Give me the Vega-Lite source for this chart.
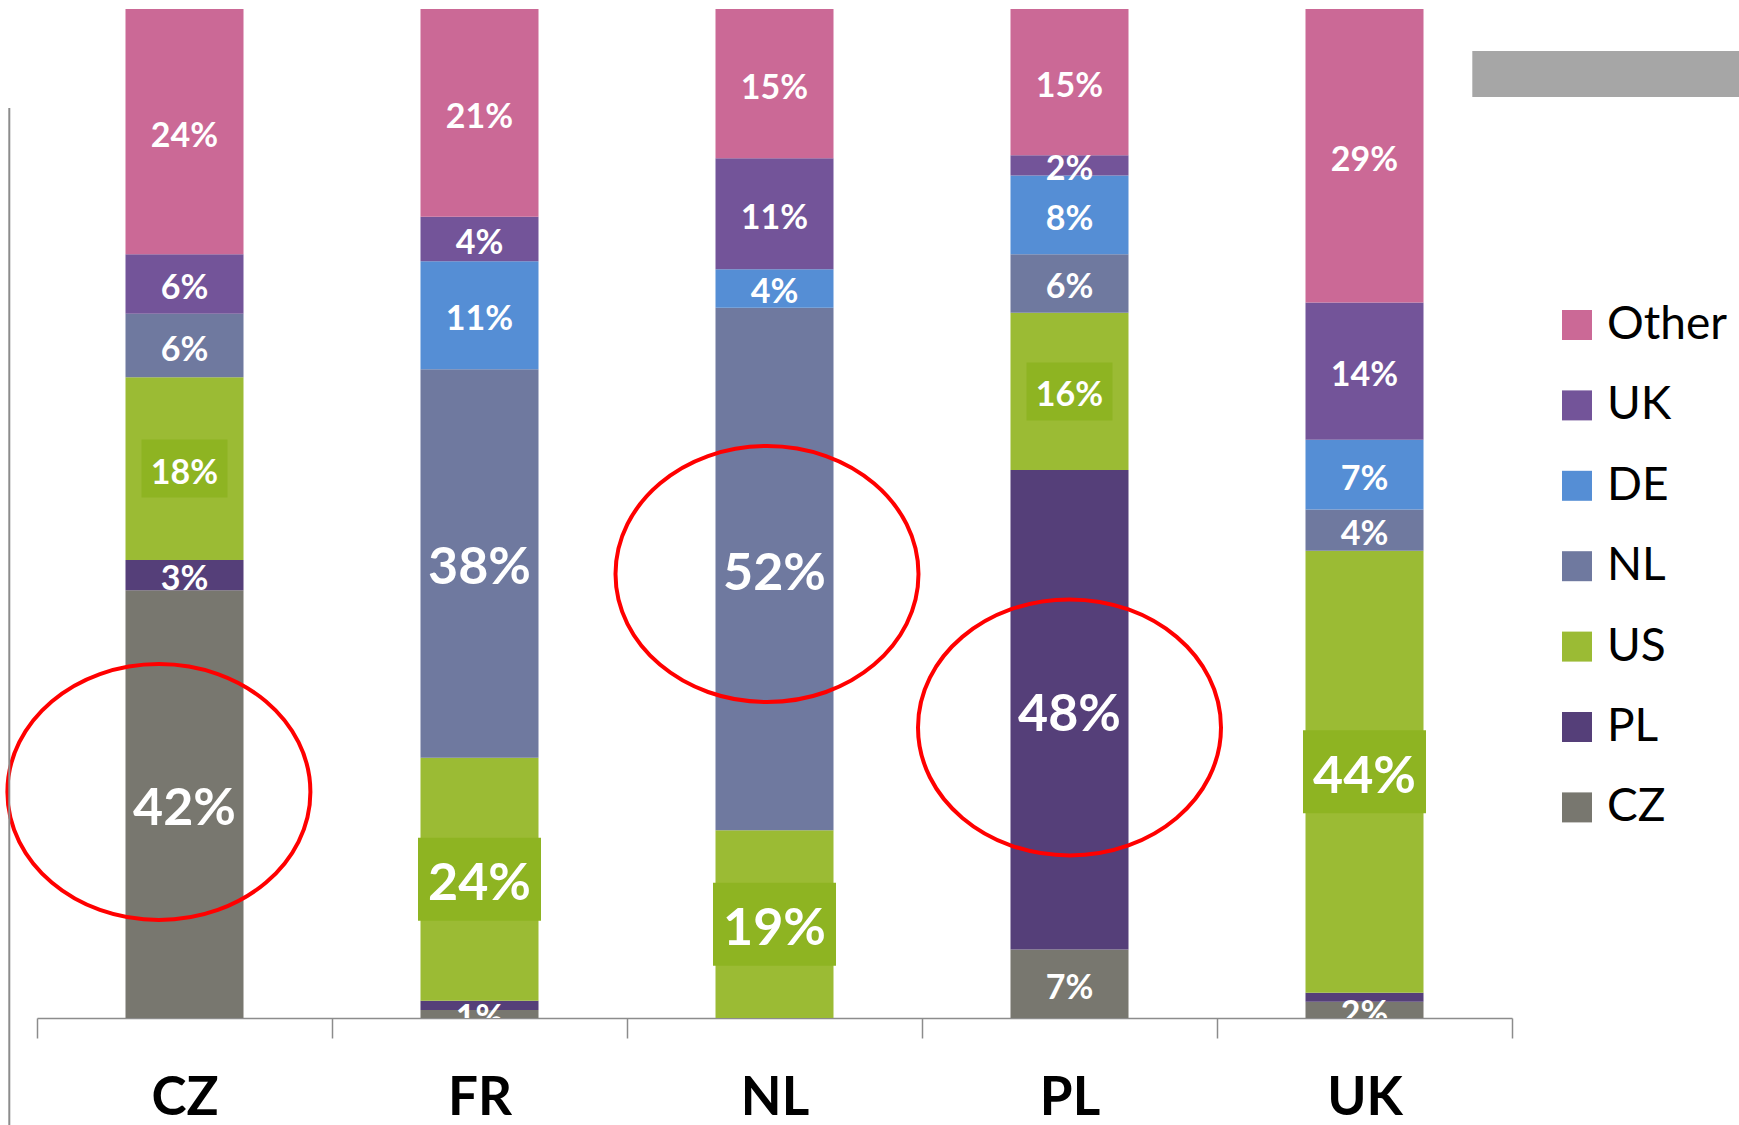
{
  "$schema": "https://vega.github.io/schema/vega-lite/v6.json",
  "width": 1475,
  "height": 1009,
  "autosize": {"type": "none"},
  "padding": {"left": 37, "top": 9, "right": 227, "bottom": 107},
  "background": "white",
  "config": {"view": {"stroke": null}, "font": "Lato"},
  "datasets": {
    "shares": [
      {"country": "CZ", "series": "CZ", "rank": 1, "share": 42.4, "label": "42%"},
      {"country": "CZ", "series": "PL", "rank": 2, "share": 3.0, "label": "3%"},
      {"country": "CZ", "series": "US", "rank": 3, "share": 18.1, "label": "18%"},
      {"country": "CZ", "series": "NL", "rank": 4, "share": 6.3, "label": "6%"},
      {"country": "CZ", "series": "UK", "rank": 6, "share": 5.9, "label": "6%"},
      {"country": "CZ", "series": "Other", "rank": 7, "share": 24.3, "label": "24%"},
      {"country": "FR", "series": "CZ", "rank": 1, "share": 0.8, "label": "1%"},
      {"country": "FR", "series": "PL", "rank": 2, "share": 0.9, "label": ""},
      {"country": "FR", "series": "US", "rank": 3, "share": 24.1, "label": "24%"},
      {"country": "FR", "series": "NL", "rank": 4, "share": 38.5, "label": "38%"},
      {"country": "FR", "series": "DE", "rank": 5, "share": 10.7, "label": "11%"},
      {"country": "FR", "series": "UK", "rank": 6, "share": 4.4, "label": "4%"},
      {"country": "FR", "series": "Other", "rank": 7, "share": 20.6, "label": "21%"},
      {"country": "NL", "series": "US", "rank": 3, "share": 18.6, "label": "19%"},
      {"country": "NL", "series": "NL", "rank": 4, "share": 51.8, "label": "52%"},
      {"country": "NL", "series": "DE", "rank": 5, "share": 3.8, "label": "4%"},
      {"country": "NL", "series": "UK", "rank": 6, "share": 11.0, "label": "11%"},
      {"country": "NL", "series": "Other", "rank": 7, "share": 14.8, "label": "15%"},
      {"country": "PL", "series": "CZ", "rank": 1, "share": 6.8, "label": "7%"},
      {"country": "PL", "series": "PL", "rank": 2, "share": 47.5, "label": "48%"},
      {"country": "PL", "series": "US", "rank": 3, "share": 15.6, "label": "16%"},
      {"country": "PL", "series": "NL", "rank": 4, "share": 5.8, "label": "6%"},
      {"country": "PL", "series": "DE", "rank": 5, "share": 7.8, "label": "8%"},
      {"country": "PL", "series": "UK", "rank": 6, "share": 2.0, "label": "2%"},
      {"country": "PL", "series": "Other", "rank": 7, "share": 14.5, "label": "15%"},
      {"country": "UK", "series": "CZ", "rank": 1, "share": 1.6, "label": "2%"},
      {"country": "UK", "series": "PL", "rank": 2, "share": 0.9, "label": ""},
      {"country": "UK", "series": "US", "rank": 3, "share": 43.8, "label": "44%"},
      {"country": "UK", "series": "NL", "rank": 4, "share": 4.1, "label": "4%"},
      {"country": "UK", "series": "DE", "rank": 5, "share": 6.9, "label": "7%"},
      {"country": "UK", "series": "UK", "rank": 6, "share": 13.6, "label": "14%"},
      {"country": "UK", "series": "Other", "rank": 7, "share": 29.1, "label": "29%"}
    ],
    "rings": [
      {"country": "CZ", "center": 22.4},
      {"country": "NL", "center": 44.0},
      {"country": "PL", "center": 28.8}
    ]
  },
  "layer": [
    {
      "data": {"name": "shares"},
      "mark": {"type": "bar", "width": {"band": 0.4}},
      "encoding": {
        "x": {
          "field": "country", "type": "nominal",
          "scale": {"domain": ["CZ", "FR", "NL", "PL", "UK"], "paddingInner": 0, "paddingOuter": 0},
          "axis": {
            "title": null, "grid": false,
            "domainColor": "#8c8c8c", "domainWidth": 1.5,
            "tickColor": "#8c8c8c", "tickWidth": 1.5, "tickSize": 20, "tickBand": "extent",
            "labelFont": "Lato", "labelFontSize": 53, "labelFontWeight": "bold", "labelColor": "#000000",
            "labelBaseline": "alphabetic", "labelPadding": 76, "labelAngle": 0
          }
        },
        "y": {
          "field": "share", "type": "quantitative", "stack": "zero",
          "scale": {"domain": [0, 100], "nice": false}, "axis": null
        },
        "color": {
          "field": "series", "type": "nominal",
          "scale": {
            "domain": ["Other", "UK", "DE", "NL", "US", "PL", "CZ"],
            "range": ["#CB6996", "#735499", "#558ED5", "#6F799F", "#9BBB34", "#553F79", "#78776F"]
          },
          "legend": {
            "title": null, "orient": "none", "legendX": 1517, "legendY": 293,
            "symbolType": "square", "symbolSize": 900, "symbolStrokeWidth": 0,
            "labelFont": "Lato", "labelFontSize": 46, "labelColor": "#000000",
            "labelOffset": 7, "rowPadding": 34.4, "padding": 0, "labelLimit": 400
          }
        },
        "order": {"field": "rank", "type": "quantitative"}
      }
    },
    {
      "data": {"name": "shares"},
      "mark": {"type": "point", "shape": "M-1,-0.675H1V0.675H-1Z", "filled": true, "fill": "#8EB422", "strokeWidth": 0, "opacity": 1},
      "encoding": {
        "x": {"field": "country", "type": "nominal"},
        "y": {"field": "share", "type": "quantitative", "stack": "zero", "bandPosition": 0.5, "axis": null},
        "detail": {"field": "series"},
        "order": {"field": "rank", "type": "quantitative"},
        "size": {"condition": {"test": "datum.share > 18.5", "value": 15129}, "value": 7396},
        "fillOpacity": {"condition": {"test": "datum.series === 'US'", "value": 1}, "value": 0}
      }
    },
    {
      "data": {"name": "shares"},
      "mark": {"type": "text", "color": "#FFFFFF", "font": "Lato", "fontWeight": "bold", "align": "center", "baseline": "middle", "dy": 5, "clip": true},
      "encoding": {
        "x": {"field": "country", "type": "nominal"},
        "y": {"field": "share", "type": "quantitative", "stack": "zero", "bandPosition": 0.5, "axis": null},
        "detail": {"field": "series"},
        "order": {"field": "rank", "type": "quantitative"},
        "text": {"field": "label"},
        "size": {"condition": {"test": "datum.series !== 'Other' && datum.share > 18.5", "value": 52}, "value": 34}
      }
    },
    {
      "data": {"name": "rings"},
      "transform": [{"filter": "datum.country === 'CZ'"}],
      "mark": {"type": "point", "shape": "M-1,0C-1,-0.4667,-0.5523,-0.845,0,-0.845C0.5523,-0.845,1,-0.4667,1,0C1,0.4667,0.5523,0.845,0,0.845C-0.5523,0.845,-1,0.4667,-1,0Z", "size": 91809, "filled": false, "stroke": "#FF0000", "strokeWidth": 4, "opacity": 1, "xOffset": -25.6},
      "encoding": {
        "x": {"field": "country", "type": "nominal"},
        "y": {"field": "center", "type": "quantitative", "axis": null}
      }
    },
    {
      "data": {"name": "rings"},
      "transform": [{"filter": "datum.country === 'NL'"}],
      "mark": {"type": "point", "shape": "M-1,0C-1,-0.4667,-0.5523,-0.845,0,-0.845C0.5523,-0.845,1,-0.4667,1,0C1,0.4667,0.5523,0.845,0,0.845C-0.5523,0.845,-1,0.4667,-1,0Z", "size": 91809, "filled": false, "stroke": "#FF0000", "strokeWidth": 4, "opacity": 1, "xOffset": -7.5},
      "encoding": {
        "x": {"field": "country", "type": "nominal"},
        "y": {"field": "center", "type": "quantitative", "axis": null}
      }
    },
    {
      "data": {"name": "rings"},
      "transform": [{"filter": "datum.country === 'PL'"}],
      "mark": {"type": "point", "shape": "M-1,0C-1,-0.4667,-0.5523,-0.845,0,-0.845C0.5523,-0.845,1,-0.4667,1,0C1,0.4667,0.5523,0.845,0,0.845C-0.5523,0.845,-1,0.4667,-1,0Z", "size": 91809, "filled": false, "stroke": "#FF0000", "strokeWidth": 4, "opacity": 1},
      "encoding": {
        "x": {"field": "country", "type": "nominal"},
        "y": {"field": "center", "type": "quantitative", "axis": null}
      }
    },
    {
      "data": {"values": [{}]},
      "mark": {"type": "rule", "color": "#8c8c8c", "strokeWidth": 2, "xOffset": -27.7},
      "encoding": {
        "x": {"datum": "CZ", "type": "nominal", "bandPosition": 0},
        "y": {"datum": 90.2, "type": "quantitative", "axis": null},
        "y2": {"datum": -10.6}
      }
    },
    {
      "data": {"values": [{}]},
      "mark": {"type": "point", "shape": "M-1,-0.1723H1V0.1723H-1Z", "filled": true, "fill": "#A6A6A6", "strokeWidth": 0, "opacity": 1, "size": 71289},
      "encoding": {
        "x": {"datum": "UK", "type": "nominal", "bandPosition": 1.318},
        "y": {"datum": 93.56, "type": "quantitative", "axis": null}
      }
    }
  ]
}
